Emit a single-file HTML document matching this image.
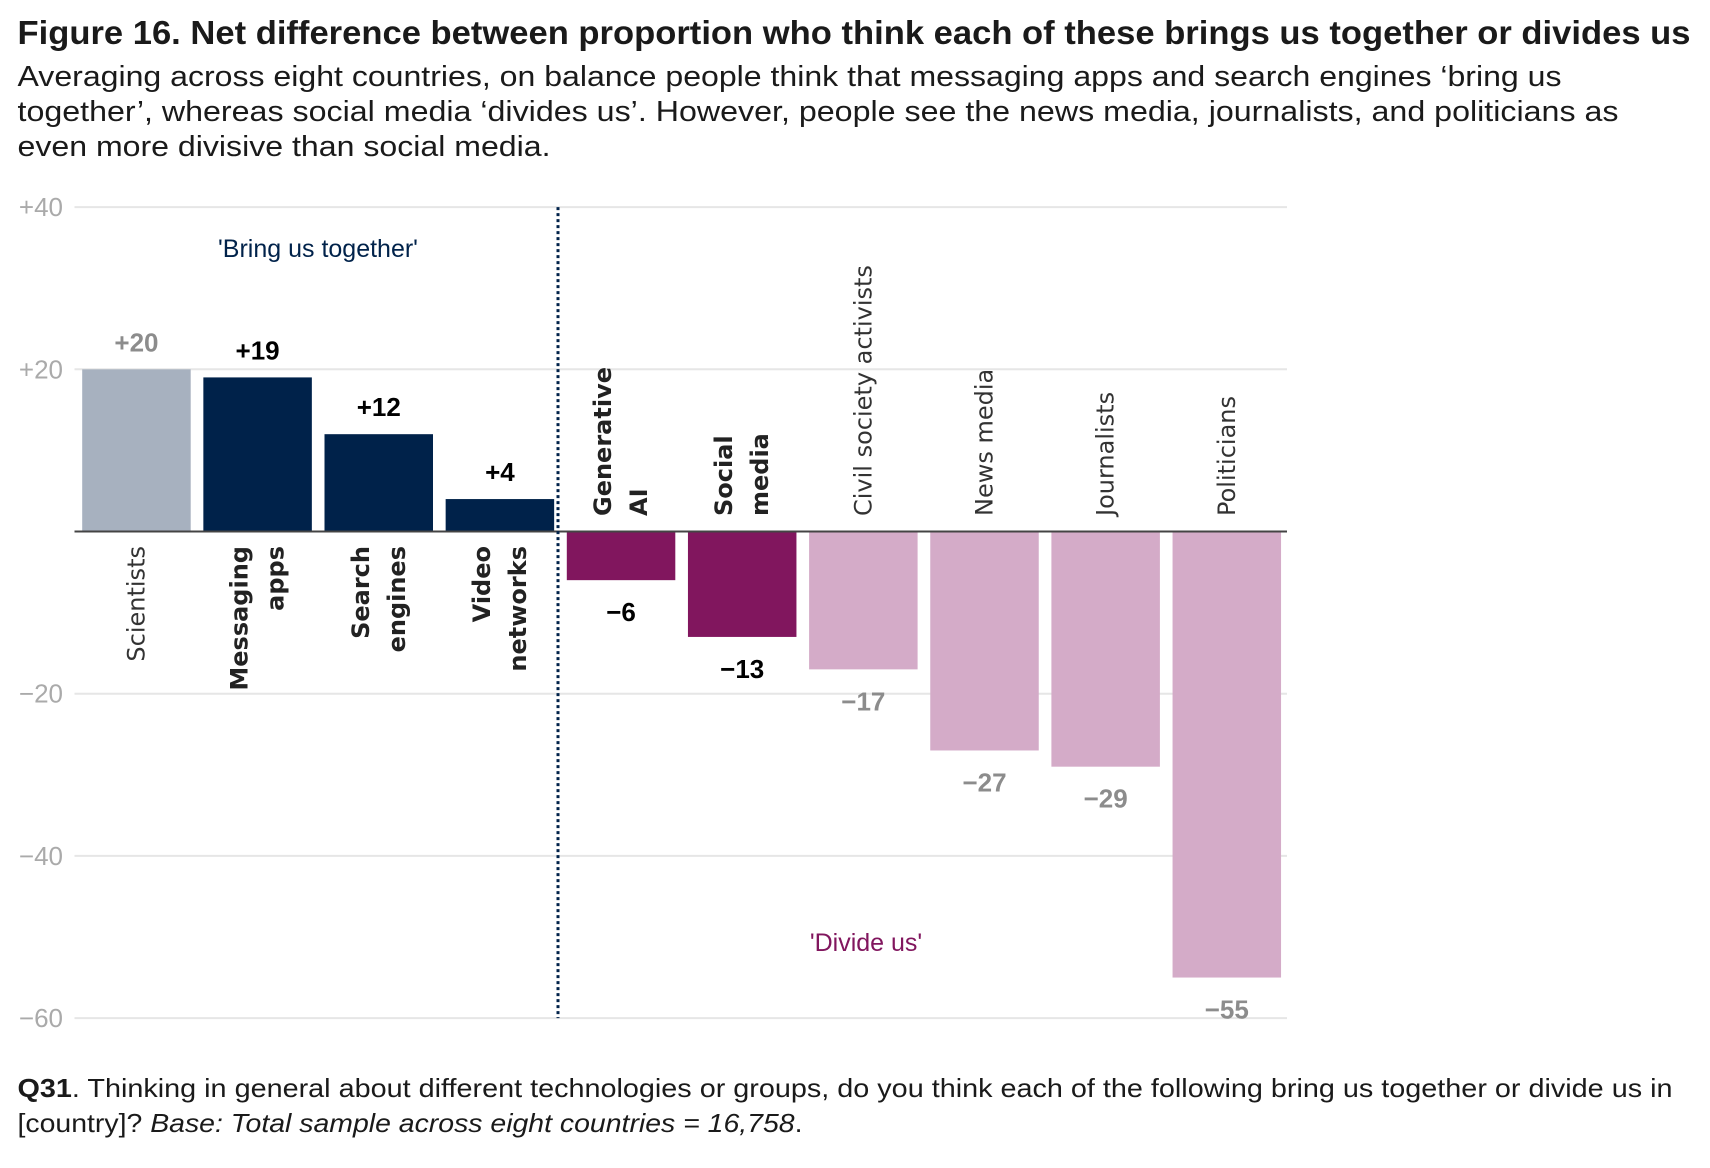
<!DOCTYPE html>
<html><head><meta charset="utf-8">
<style>
html,body{margin:0;padding:0;background:#fff;}
svg{display:block;font-family:"Liberation Sans",sans-serif;}
</style></head>
<body>
<svg id="chart" width="1710" height="1168" viewBox="0 0 1710 1168">
<text x="17.5" y="44" font-size="33" font-weight="bold" fill="#1a1a1a" textLength="1673" lengthAdjust="spacingAndGlyphs">Figure 16. Net difference between proportion who think each of these brings us together or divides us</text>
<g font-size="28.5" fill="#1a1a1a">
<text x="17.5" y="86" textLength="1544" lengthAdjust="spacingAndGlyphs">Averaging across eight countries, on balance people think that messaging apps and search engines ‘bring us</text>
<text x="17.5" y="121" textLength="1601" lengthAdjust="spacingAndGlyphs">together’, whereas social media ‘divides us’. However, people see the news media, journalists, and politicians as</text>
<text x="17.5" y="156" textLength="533" lengthAdjust="spacingAndGlyphs">even more divisive than social media.</text>
</g>
<g id="grid"></g>
<g id="bars"></g>
<g id="labels"></g>
<text x="318" y="257" font-size="25" fill="#00224a" text-anchor="middle">'Bring us together'</text>
<text x="866" y="951" font-size="25" fill="#81165e" text-anchor="middle">'Divide us'</text>
<g font-size="26" fill="#1a1a1a">
<text x="17.5" y="1097" textLength="1655" lengthAdjust="spacingAndGlyphs"><tspan font-weight="bold">Q31</tspan>. Thinking in general about different technologies or groups, do you think each of the following bring us together or divide us in</text>
<text x="17.5" y="1132" textLength="785" lengthAdjust="spacingAndGlyphs">[country]? <tspan font-style="italic">Base: Total sample across eight countries = 16,758</tspan>.</text>
</g>
</svg>
<script>
const categories = [["Scientists"],["Messaging","apps"],["Search","engines"],["Video","networks"],["Generative","AI"],["Social","media"],["Civil society activists"],["News media"],["Journalists"],["Politicians"]];
const values = [20,19,12,4,-6,-13,-17,-27,-29,-55];
const barColors = ["#a7b1bf","#00224a","#00224a","#00224a","#81165e","#81165e","#d4abc8","#d4abc8","#d4abc8","#d4abc8"];
const emphasis = [false,true,true,true,true,true,false,false,false,false];
const yTicks = [40,20,0,-20,-40,-60];
const yTickLabels = ["+40","+20","","−20","−40","−60"];

const NS="http://www.w3.org/2000/svg";
const gGrid=document.getElementById('grid'), gBars=document.getElementById('bars'), gLab=document.getElementById('labels');
const y0=531.5, unit=8.11;
function y(v){return y0 - v*unit;}
const x0=82.2, pitch=121.15, bw=108.5;
function x(i){return x0+i*pitch;}
function mk(tag,attrs,parent){const e=document.createElementNS(NS,tag);for(const k in attrs)e.setAttribute(k,attrs[k]);parent.appendChild(e);return e;}

yTicks.forEach((t,i)=>{
  if(t!==0){
    const l=mk('line',{x1:74.5,x2:1287,y1:y(t),y2:y(t),stroke:'#e6e6e6','stroke-width':2},gGrid);
    
    
  }
  if(yTickLabels[i]){
    const tx=mk('text',{x:63,y:y(t)+9,'font-size':26,fill:'#aaaaaa','text-anchor':'end'},gGrid);
    tx.textContent=yTickLabels[i];
    
    
  }
});

values.forEach((v,i)=>{
  const top=Math.min(y(v),y0), h=Math.abs(y(v)-y0);
  const r=mk('rect',{x:x(i),y:top,width:bw,height:h,fill:barColors[i]},gBars);
  
  
  const cx=x(i)+bw/2;
  const vt=mk('text',{x:cx,y:v>=0?y(v)-18:y(v)+41,'font-size':26,'font-weight':'bold','text-anchor':'middle',fill:emphasis[i]?'#000':'#8c8c8c'},gLab);
  vt.textContent=(v>0?'+':'−')+Math.abs(v);
  
  
  const lines=categories[i];
  lines.forEach((ln,j)=>{
    const off=(j-(lines.length-1)/2)*36;
    const lx=cx+off+8;
    let ly, anchor;
    if(v>=0){ly=546;anchor='end';}else{ly=516;anchor='start';}
    const ct=mk('text',{x:lx,y:ly,'font-size':24,'font-family':'DejaVu Sans, sans-serif','font-weight':emphasis[i]?'bold':'normal',fill:emphasis[i]?'#222':'#333','text-anchor':anchor,transform:`rotate(-90 ${lx} ${ly})`},gLab);
    ct.textContent=ln;
    
    
  });
});

const ax=mk('line',{x1:74.5,x2:1287,y1:y0,y2:y0,stroke:'#444','stroke-width':2},gBars);


const dv=mk('line',{x1:558,x2:558,y1:y(40),y2:y(-60),stroke:'#00224a','stroke-width':3,'stroke-dasharray':'3 3'},gBars);


</script>
</body></html>
